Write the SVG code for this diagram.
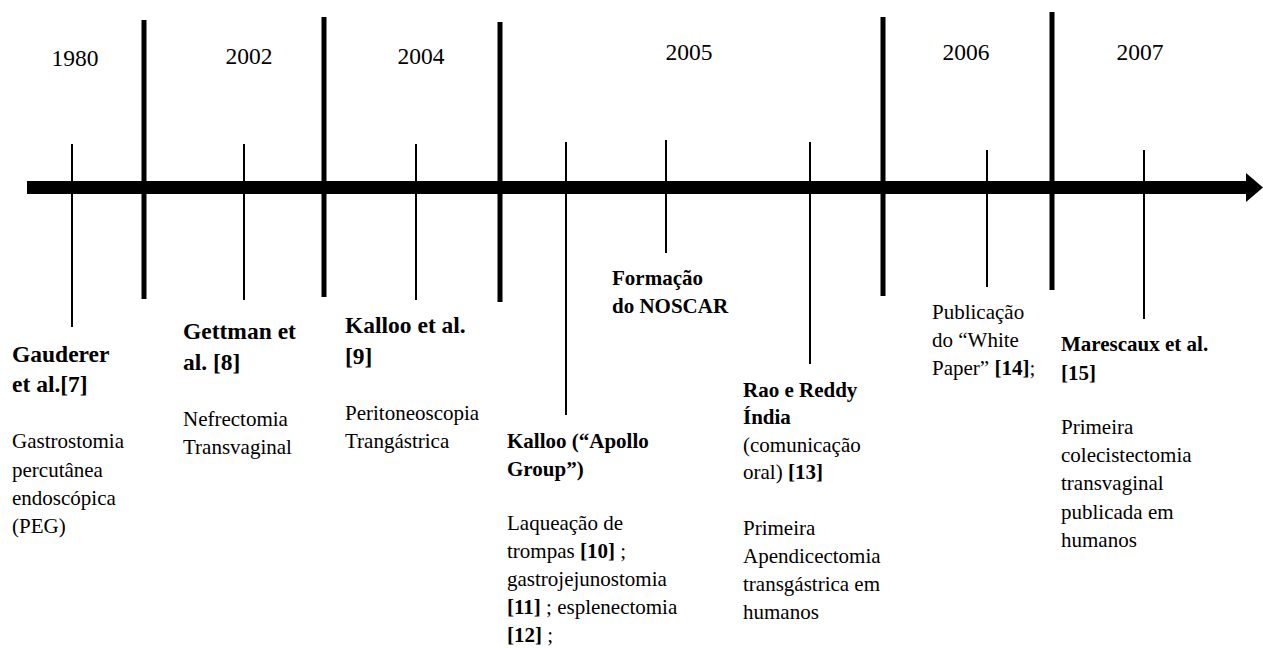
<svg xmlns="http://www.w3.org/2000/svg" width="1263" height="648" viewBox="0 0 1263 648">
<g id="axis">
<rect x="27" y="181" width="1222" height="13" fill="#000"/>
<polygon points="1246,173 1263,187.5 1246,202" fill="#000"/>
</g>
<g id="dividers" stroke="#000" stroke-width="5" fill="none">
<line x1="144" y1="20" x2="144" y2="299"/>
<line x1="324" y1="17" x2="324" y2="297"/>
<line x1="500" y1="22" x2="500" y2="302"/>
<line x1="883" y1="17" x2="883" y2="296"/>
<line x1="1052" y1="12" x2="1052" y2="290"/>
</g>
<g id="years" text-anchor="middle">
<text font-family="Liberation Serif" font-size="23.5" x="75" y="66">1980</text>
<text font-family="Liberation Serif" font-size="23.5" x="249" y="64">2002</text>
<text font-family="Liberation Serif" font-size="23.5" x="421" y="64">2004</text>
<text font-family="Liberation Serif" font-size="23.5" x="689" y="60">2005</text>
<text font-family="Liberation Serif" font-size="23.5" x="966" y="60">2006</text>
<text font-family="Liberation Serif" font-size="23.5" x="1140" y="60">2007</text>
</g>
<g id="connectors" stroke="#000" stroke-width="2" fill="none">
<line x1="72" y1="144" x2="72" y2="327"/>
<line x1="244" y1="144" x2="244" y2="300"/>
<line x1="416" y1="144" x2="416" y2="300"/>
<line x1="566" y1="142" x2="566" y2="415"/>
<line x1="666" y1="140" x2="666" y2="253"/>
<line x1="810" y1="142" x2="810" y2="364"/>
<line x1="987" y1="150" x2="987" y2="287"/>
<line x1="1144" y1="150" x2="1144" y2="319"/>
</g>
<g id="ev-gauderer">
<text font-family="Liberation Serif" font-size="23.5" font-weight="bold" x="12" y="362">Gauderer</text>
<text font-family="Liberation Serif" font-size="23.5" font-weight="bold" x="12" y="392">et al.[7]</text>
<text font-family="Liberation Serif" font-size="21" x="12" y="448">Gastrostomia</text>
<text font-family="Liberation Serif" font-size="21" x="12" y="477">percut&#226;nea</text>
<text font-family="Liberation Serif" font-size="21" x="12" y="505">endosc&#243;pica</text>
<text font-family="Liberation Serif" font-size="21" x="12" y="533">(PEG)</text>
</g>
<g id="ev-gettman">
<text font-family="Liberation Serif" font-size="23.5" font-weight="bold" x="183" y="339">Gettman et</text>
<text font-family="Liberation Serif" font-size="23.5" font-weight="bold" x="183" y="370">al. [8]</text>
<text font-family="Liberation Serif" font-size="21" x="183" y="426">Nefrectomia</text>
<text font-family="Liberation Serif" font-size="21" x="183" y="454">Transvaginal</text>
</g>
<g id="ev-kalloo2004">
<text font-family="Liberation Serif" font-size="23.5" font-weight="bold" x="345" y="333">Kalloo et al.</text>
<text font-family="Liberation Serif" font-size="23.5" font-weight="bold" x="345" y="364">[9]</text>
<text font-family="Liberation Serif" font-size="21" x="345" y="420">Peritoneoscopia</text>
<text font-family="Liberation Serif" font-size="21" x="345" y="448">Trang&#225;strica</text>
</g>
<g id="ev-apollo">
<text font-family="Liberation Serif" font-size="21" font-weight="bold" x="507" y="448">Kalloo (&#8220;Apollo</text>
<text font-family="Liberation Serif" font-size="21" font-weight="bold" x="507" y="476">Group&#8221;)</text>
<text font-family="Liberation Serif" font-size="21" x="507" y="530">Laquea&#231;&#227;o de</text>
<text font-family="Liberation Serif" font-size="21" x="507" y="558">trompas <tspan font-weight="bold">[10]</tspan> ;</text>
<text font-family="Liberation Serif" font-size="21" x="507" y="586">gastrojejunostomia</text>
<text font-family="Liberation Serif" font-size="21" x="507" y="614"><tspan font-weight="bold">[11]</tspan> ; esplenectomia</text>
<text font-family="Liberation Serif" font-size="21" x="507" y="642"><tspan font-weight="bold">[12]</tspan> ;</text>
</g>
<g id="ev-noscar">
<text font-family="Liberation Serif" font-size="21" font-weight="bold" x="612" y="285">Forma&#231;&#227;o</text>
<text font-family="Liberation Serif" font-size="21" font-weight="bold" x="612" y="313">do NOSCAR</text>
</g>
<g id="ev-rao">
<text font-family="Liberation Serif" font-size="21" font-weight="bold" x="743" y="397">Rao e Reddy</text>
<text font-family="Liberation Serif" font-size="21" font-weight="bold" x="743" y="424">&#205;ndia</text>
<text font-family="Liberation Serif" font-size="21" x="743" y="452">(comunica&#231;&#227;o</text>
<text font-family="Liberation Serif" font-size="21" x="743" y="479">oral) <tspan font-weight="bold">[13]</tspan></text>
<text font-family="Liberation Serif" font-size="21" x="743" y="535">Primeira</text>
<text font-family="Liberation Serif" font-size="21" x="743" y="563">Apendicectomia</text>
<text font-family="Liberation Serif" font-size="21" x="743" y="591">transg&#225;strica em</text>
<text font-family="Liberation Serif" font-size="21" x="743" y="619">humanos</text>
</g>
<g id="ev-whitepaper">
<text font-family="Liberation Serif" font-size="21" x="932" y="319">Publica&#231;&#227;o</text>
<text font-family="Liberation Serif" font-size="21" x="932" y="347">do &#8220;White</text>
<text font-family="Liberation Serif" font-size="21" x="932" y="375">Paper&#8221; <tspan font-weight="bold">[14]</tspan>;</text>
</g>
<g id="ev-marescaux">
<text font-family="Liberation Serif" font-size="21" font-weight="bold" x="1061" y="351">Marescaux et al.</text>
<text font-family="Liberation Serif" font-size="21" font-weight="bold" x="1061" y="380">[15]</text>
<text font-family="Liberation Serif" font-size="21" x="1061" y="434">Primeira</text>
<text font-family="Liberation Serif" font-size="21" x="1061" y="462">colecistectomia</text>
<text font-family="Liberation Serif" font-size="21" x="1061" y="490">transvaginal</text>
<text font-family="Liberation Serif" font-size="21" x="1061" y="519">publicada em</text>
<text font-family="Liberation Serif" font-size="21" x="1061" y="547">humanos</text>
</g>
</svg>
